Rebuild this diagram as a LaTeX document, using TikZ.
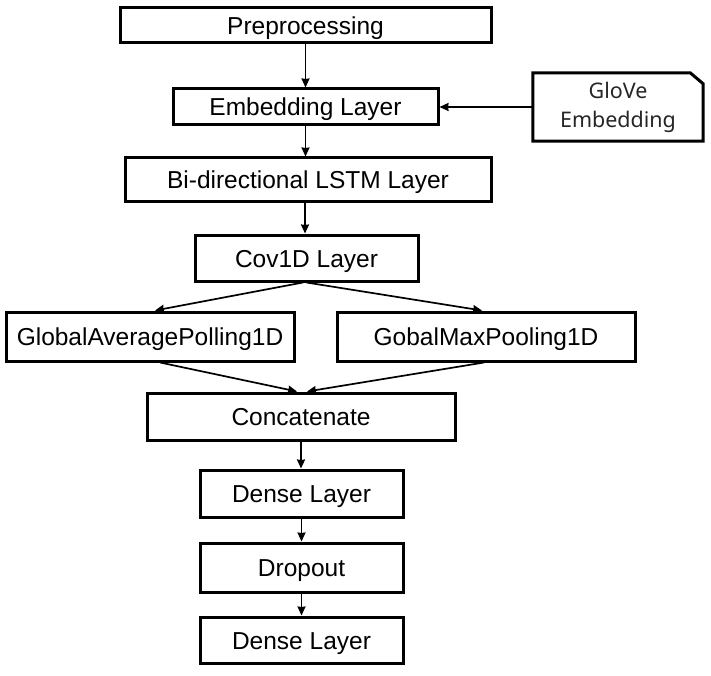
\documentclass[tikz,border=0pt]{standalone}
\usepackage{fontspec}
\setmainfont{Liberation Sans}
\newfontfamily\glovefont{Noto Sans}
\usetikzlibrary{arrows.meta}
\begin{document}
\begin{tikzpicture}[x=1pt,y=-1pt,
  layer/.style={draw=black,line width=3pt,rectangle,inner sep=0pt,
    text height=18pt,text depth=0pt,
    font=\fontsize{24.5}{28}\selectfont},
  arr/.style={line width=1.7pt,-{Stealth[length=9pt,width=8pt,inset=0.5pt]}}]
\useasboundingbox (0,0) rectangle (711,676);
\fill[white] (0,0) rectangle (711,676);
\node[layer,minimum width=371,minimum height=35] (pre) at (305.5,25.5) {Preprocessing};
\node[layer,minimum width=265,minimum height=36] (emb) at (305.5,107) {Embedding Layer};
\node[inner sep=0pt,minimum width=170,minimum height=68,align=center,
  font=\glovefont\fontsize{21.5}{29}\selectfont,text=black!85] (glove) at (618,107) {GloVe\\Embedding};
\draw[line width=3pt,line join=miter]
  (glove.south west) -- (glove.north west) -- ([xshift=-13]glove.north east)
  -- ([yshift=-11]glove.north east) -- (glove.south east) -- cycle;
\node[layer,minimum width=366,minimum height=44] (lstm) at (308,180) {Bi-directional LSTM Layer};
\node[layer,minimum width=223,minimum height=46] (cov) at (306.5,258) {Cov1D Layer};
\node[layer,minimum width=288,minimum height=49] (gap) at (150,336.5) {GlobalAveragePolling1D};
\node[layer,minimum width=298,minimum height=49] (gmp) at (486,336.5) {GobalMaxPooling1D};
\node[layer,minimum width=308,minimum height=47] (cat) at (301,416.5) {Concatenate};
\node[layer,minimum width=203,minimum height=47] (d1) at (301.5,493.5) {Dense Layer};
\node[layer,minimum width=203,minimum height=49] (drop) at (301.5,567.5) {Dropout};
\node[layer,minimum width=203,minimum height=46] (d2) at (301.5,640) {Dense Layer};
% connectors
\draw[arr] (pre.south) -- (emb.north);
\draw[arr] (emb.south) -- (emb.south |- lstm.north);
\draw[arr] (glove.west) -- (emb.east);
\draw[arr] ([xshift=-3]lstm.south) -- ([xshift=-3]lstm.south |- cov.north);
\draw[arr] ([xshift=-3.5]cov.south) -- ([xshift=5]gap.north);
\draw[arr] (cov.south) -- ([xshift=-4]gmp.north);
\draw[arr] ([xshift=10]gap.south) -- ([xshift=-4]cat.north);
\draw[arr] ([xshift=-2]gmp.south) -- ([xshift=6]cat.north);
\draw[arr] (cat.south) -- (cat.south |- d1.north);
\draw[arr] (d1.south) -- (drop.north);
\draw[arr] (drop.south) -- (d2.north);
\end{tikzpicture}
\end{document}
